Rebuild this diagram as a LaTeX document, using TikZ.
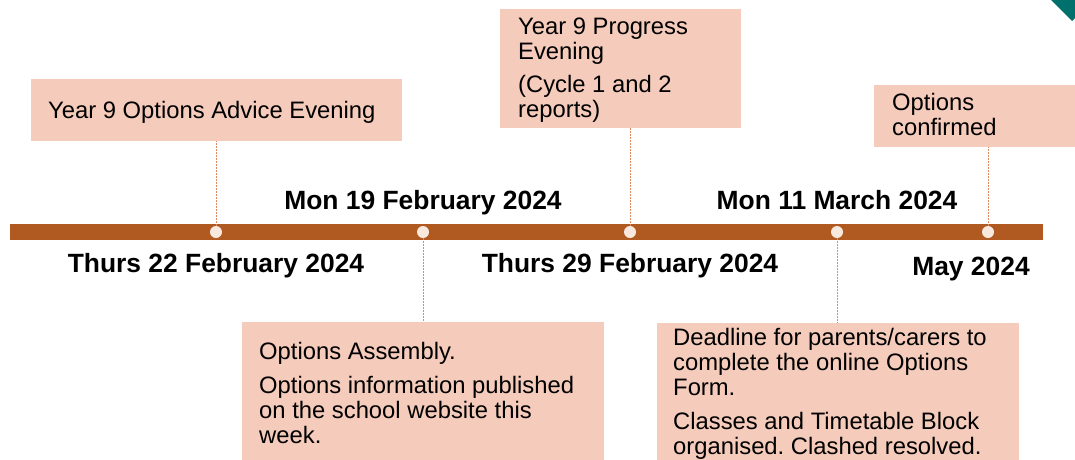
\documentclass[tikz,border=0pt]{standalone}
\usepackage{fontspec}
\setmainfont{Liberation Sans}
\usepackage{tikz}
\usetikzlibrary{positioning}
\frenchspacing

\definecolor{boxpeach}{RGB}{245,203,187}
\definecolor{barbrown}{RGB}{176,90,34}
\definecolor{dotcream}{RGB}{248,232,222}
\definecolor{guideorange}{RGB}{221,140,95}
\definecolor{cornerteal}{RGB}{0,112,109}

\begin{document}
\begin{tikzpicture}[x=1pt,y=1pt,yscale=-1,xscale=1,
  eventbox/.style={fill=boxpeach, draw=none, inner sep=0pt, anchor=north west},
  eventtext/.style={anchor=base west, align=left, inner sep=0pt,
    font=\fontsize{23.8}{25}\selectfont},
  datelabel/.style={anchor=base, inner sep=0pt, font=\fontsize{26.4}{30}\selectfont\bfseries},
  stopdot/.style={circle, fill=dotcream, draw=none, minimum size=12pt, inner sep=0pt},
  guide/.style={guideorange, line width=0.6pt, dash pattern={on 1.5pt off 1.5pt}}]
\useasboundingbox (0,0) rectangle (1075,459);

%Corner mark
\fill [cornerteal] (1051,0) -- (1075,0) -- (1075,18) -- (1072,21) -- cycle;

%Timeline bar
\fill [barbrown] (10,224) rectangle (1043,240);

% Stops on the bar
\node [stopdot] (stopA) at (216,232) {};
\node [stopdot] (stopB) at (423,232) {};
\node [stopdot] (stopC) at (630,232) {};
\node [stopdot] (stopD) at (837,232) {};
\node [stopdot] (stopE) at (988,232) {};

% Boxes
\node [eventbox, minimum width=371pt, minimum height=62pt] (advice) at (31,79) {};
\node [eventbox, minimum width=241pt, minimum height=119pt] (progress) at (500,9) {};
\node [eventbox, minimum width=215pt, minimum height=62pt] (confirmed) at (874,85) {};
\node [eventbox, minimum width=362pt, minimum height=145pt] (assembly) at (242,322) {};
\node [eventbox, minimum width=362pt, minimum height=145pt] (deadline) at (657,323) {};

% Text Node (placed by the baseline of the last line)
\node [eventtext] (adviceText) at (48,118) {Year 9 Options Advice Evening};
% Text Node
\node [eventtext] (progressText) at (518,117) {Year 9 Progress\\Evening\\[8pt](Cycle 1 and 2\\reports)};
% Text Node
\node [eventtext] (confirmedText) at (892,135) {Options\\confirmed};
% Text Node
\node [eventtext] (assemblyText) at (259,443) {Options Assembly.\\[9pt]Options information published\\on the school website this\\week.};
% Text Node
\node [eventtext] (deadlineText) at (673,454) {Deadline for parents/carers to\\complete the online Options\\Form.\\[9pt]Classes and Timetable Block\\organised. Clashed resolved.};

%Straight Lines
\draw [guide] (stopA) -- (stopA |- advice.south);
\draw [guide] (stopB) -- (stopB |- assembly.north);
\draw [guide] (stopC) -- (stopC |- progress.south);
\draw [guide] (stopD) -- (stopD |- deadline.north);
\draw [guide] (stopE) -- (stopE |- confirmed.south);

% Text Node
\node [datelabel] (dateMonFeb) at (423,209) {Mon 19 February 2024};
% Text Node
\node [datelabel] (dateThursA) at (216,272) {Thurs 22 February 2024};
% Text Node
\node [datelabel] (dateThursB) at (630,272) {Thurs 29 February 2024};
% Text Node
\node [datelabel] (dateMonMar) at (837,209) {Mon 11 March 2024};
% Text Node
\node [datelabel] (dateMay) at (971,275) {May 2024};

\end{tikzpicture}
\end{document}
